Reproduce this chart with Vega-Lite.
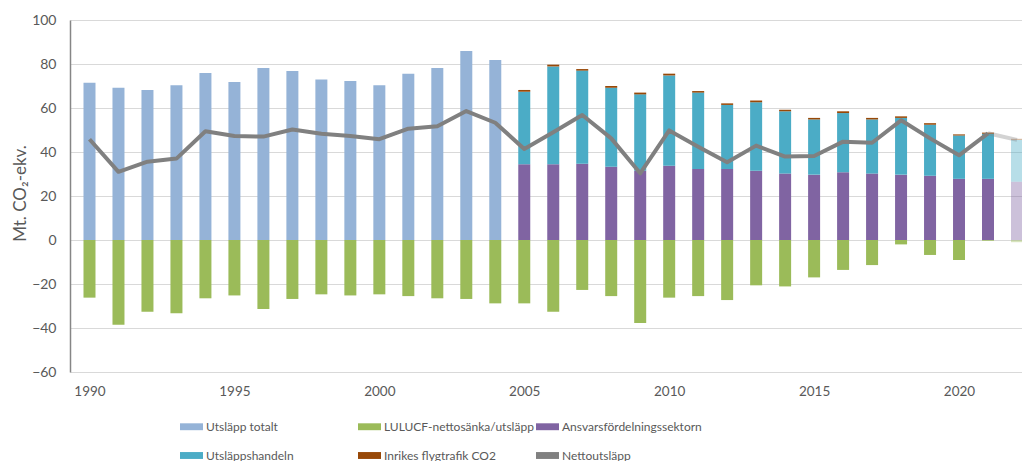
{
  "$schema": "https://vega.github.io/schema/vega-lite/v6.json",
  "width": 952,
  "height": 352,
  "autosize": {"type": "none"},
  "padding": {"left": 70, "top": 20, "right": 0, "bottom": 89},
  "background": "white",
  "config": {
    "view": {"stroke": null},
    "font": "Lato",
    "axis": {"labelFont": "Lato", "labelColor": "#595959", "titleFont": "Lato", "titleColor": "#595959", "titleFontWeight": "normal"},
    "legend": {"labelFont": "Lato", "labelColor": "#595959"}
  },
  "datasets": {
    "bars": [
      {"year": 1990, "series": "Utsläpp totalt", "value": 71.5},
      {"year": 1991, "series": "Utsläpp totalt", "value": 69.2},
      {"year": 1992, "series": "Utsläpp totalt", "value": 68.2},
      {"year": 1993, "series": "Utsläpp totalt", "value": 70.3},
      {"year": 1994, "series": "Utsläpp totalt", "value": 75.9},
      {"year": 1995, "series": "Utsläpp totalt", "value": 71.8},
      {"year": 1996, "series": "Utsläpp totalt", "value": 78.2},
      {"year": 1997, "series": "Utsläpp totalt", "value": 76.8},
      {"year": 1998, "series": "Utsläpp totalt", "value": 73.0},
      {"year": 1999, "series": "Utsläpp totalt", "value": 72.3},
      {"year": 2000, "series": "Utsläpp totalt", "value": 70.3},
      {"year": 2001, "series": "Utsläpp totalt", "value": 75.6},
      {"year": 2002, "series": "Utsläpp totalt", "value": 78.2},
      {"year": 2003, "series": "Utsläpp totalt", "value": 85.9},
      {"year": 2004, "series": "Utsläpp totalt", "value": 81.8},
      {"year": 1990, "series": "LULUCF-nettosänka/utsläpp", "value": -26.2},
      {"year": 1991, "series": "LULUCF-nettosänka/utsläpp", "value": -38.5},
      {"year": 1992, "series": "LULUCF-nettosänka/utsläpp", "value": -32.6},
      {"year": 1993, "series": "LULUCF-nettosänka/utsläpp", "value": -33.3},
      {"year": 1994, "series": "LULUCF-nettosänka/utsläpp", "value": -26.5},
      {"year": 1995, "series": "LULUCF-nettosänka/utsläpp", "value": -25.2},
      {"year": 1996, "series": "LULUCF-nettosänka/utsläpp", "value": -31.4},
      {"year": 1997, "series": "LULUCF-nettosänka/utsläpp", "value": -26.8},
      {"year": 1998, "series": "LULUCF-nettosänka/utsläpp", "value": -24.7},
      {"year": 1999, "series": "LULUCF-nettosänka/utsläpp", "value": -25.2},
      {"year": 2000, "series": "LULUCF-nettosänka/utsläpp", "value": -24.7},
      {"year": 2001, "series": "LULUCF-nettosänka/utsläpp", "value": -25.5},
      {"year": 2002, "series": "LULUCF-nettosänka/utsläpp", "value": -26.5},
      {"year": 2003, "series": "LULUCF-nettosänka/utsläpp", "value": -26.8},
      {"year": 2004, "series": "LULUCF-nettosänka/utsläpp", "value": -28.8},
      {"year": 2005, "series": "LULUCF-nettosänka/utsläpp", "value": -28.8},
      {"year": 2006, "series": "LULUCF-nettosänka/utsläpp", "value": -32.6},
      {"year": 2007, "series": "LULUCF-nettosänka/utsläpp", "value": -22.7},
      {"year": 2008, "series": "LULUCF-nettosänka/utsläpp", "value": -25.5},
      {"year": 2009, "series": "LULUCF-nettosänka/utsläpp", "value": -37.7},
      {"year": 2010, "series": "LULUCF-nettosänka/utsläpp", "value": -26.2},
      {"year": 2011, "series": "LULUCF-nettosänka/utsläpp", "value": -25.5},
      {"year": 2012, "series": "LULUCF-nettosänka/utsläpp", "value": -27.3},
      {"year": 2013, "series": "LULUCF-nettosänka/utsläpp", "value": -20.6},
      {"year": 2014, "series": "LULUCF-nettosänka/utsläpp", "value": -21.1},
      {"year": 2015, "series": "LULUCF-nettosänka/utsläpp", "value": -17.0},
      {"year": 2016, "series": "LULUCF-nettosänka/utsläpp", "value": -13.6},
      {"year": 2017, "series": "LULUCF-nettosänka/utsläpp", "value": -11.4},
      {"year": 2018, "series": "LULUCF-nettosänka/utsläpp", "value": -2.0},
      {"year": 2019, "series": "LULUCF-nettosänka/utsläpp", "value": -6.8},
      {"year": 2020, "series": "LULUCF-nettosänka/utsläpp", "value": -9.1},
      {"year": 2021, "series": "LULUCF-nettosänka/utsläpp", "value": -0.3},
      {"year": 2022, "series": "LULUCF-nettosänka/utsläpp", "value": -1.0},
      {"year": 2005, "series": "Ansvarsfördelningssektorn", "value": 34.4},
      {"year": 2006, "series": "Ansvarsfördelningssektorn", "value": 34.4},
      {"year": 2007, "series": "Ansvarsfördelningssektorn", "value": 34.7},
      {"year": 2008, "series": "Ansvarsfördelningssektorn", "value": 33.3},
      {"year": 2009, "series": "Ansvarsfördelningssektorn", "value": 31.5},
      {"year": 2010, "series": "Ansvarsfördelningssektorn", "value": 33.8},
      {"year": 2011, "series": "Ansvarsfördelningssektorn", "value": 32.3},
      {"year": 2012, "series": "Ansvarsfördelningssektorn", "value": 32.3},
      {"year": 2013, "series": "Ansvarsfördelningssektorn", "value": 31.5},
      {"year": 2014, "series": "Ansvarsfördelningssektorn", "value": 30.2},
      {"year": 2015, "series": "Ansvarsfördelningssektorn", "value": 29.7},
      {"year": 2016, "series": "Ansvarsfördelningssektorn", "value": 30.8},
      {"year": 2017, "series": "Ansvarsfördelningssektorn", "value": 30.2},
      {"year": 2018, "series": "Ansvarsfördelningssektorn", "value": 29.7},
      {"year": 2019, "series": "Ansvarsfördelningssektorn", "value": 29.2},
      {"year": 2020, "series": "Ansvarsfördelningssektorn", "value": 27.8},
      {"year": 2021, "series": "Ansvarsfördelningssektorn", "value": 27.8},
      {"year": 2022, "series": "Ansvarsfördelningssektorn", "value": 26.5},
      {"year": 2005, "series": "Utsläppshandeln", "value": 33.0},
      {"year": 2006, "series": "Utsläppshandeln", "value": 44.5},
      {"year": 2007, "series": "Utsläppshandeln", "value": 42.3},
      {"year": 2008, "series": "Utsläppshandeln", "value": 35.9},
      {"year": 2009, "series": "Utsläppshandeln", "value": 34.7},
      {"year": 2010, "series": "Utsläppshandeln", "value": 41.0},
      {"year": 2011, "series": "Utsläppshandeln", "value": 34.7},
      {"year": 2012, "series": "Utsläppshandeln", "value": 29.1},
      {"year": 2013, "series": "Utsläppshandeln", "value": 31.1},
      {"year": 2014, "series": "Utsläppshandeln", "value": 28.3},
      {"year": 2015, "series": "Utsläppshandeln", "value": 25.1},
      {"year": 2016, "series": "Utsläppshandeln", "value": 26.9},
      {"year": 2017, "series": "Utsläppshandeln", "value": 24.6},
      {"year": 2018, "series": "Utsläppshandeln", "value": 25.8},
      {"year": 2019, "series": "Utsläppshandeln", "value": 23.2},
      {"year": 2020, "series": "Utsläppshandeln", "value": 19.7},
      {"year": 2021, "series": "Utsläppshandeln", "value": 20.5},
      {"year": 2022, "series": "Utsläppshandeln", "value": 19.0},
      {"year": 2005, "series": "Inrikes flygtrafik CO2", "value": 0.8},
      {"year": 2006, "series": "Inrikes flygtrafik CO2", "value": 0.8},
      {"year": 2007, "series": "Inrikes flygtrafik CO2", "value": 0.7},
      {"year": 2008, "series": "Inrikes flygtrafik CO2", "value": 0.8},
      {"year": 2009, "series": "Inrikes flygtrafik CO2", "value": 0.8},
      {"year": 2010, "series": "Inrikes flygtrafik CO2", "value": 0.8},
      {"year": 2011, "series": "Inrikes flygtrafik CO2", "value": 0.7},
      {"year": 2012, "series": "Inrikes flygtrafik CO2", "value": 0.7},
      {"year": 2013, "series": "Inrikes flygtrafik CO2", "value": 0.8},
      {"year": 2014, "series": "Inrikes flygtrafik CO2", "value": 0.7},
      {"year": 2015, "series": "Inrikes flygtrafik CO2", "value": 0.7},
      {"year": 2016, "series": "Inrikes flygtrafik CO2", "value": 0.8},
      {"year": 2017, "series": "Inrikes flygtrafik CO2", "value": 0.7},
      {"year": 2018, "series": "Inrikes flygtrafik CO2", "value": 0.7},
      {"year": 2019, "series": "Inrikes flygtrafik CO2", "value": 0.7},
      {"year": 2020, "series": "Inrikes flygtrafik CO2", "value": 0.5},
      {"year": 2021, "series": "Inrikes flygtrafik CO2", "value": 0.5},
      {"year": 2022, "series": "Inrikes flygtrafik CO2", "value": 0.5}
    ],
    "net": [
      {"year": 1990, "value": 45.8},
      {"year": 1991, "value": 31.0},
      {"year": 1992, "value": 35.6},
      {"year": 1993, "value": 37.0},
      {"year": 1994, "value": 49.4},
      {"year": 1995, "value": 47.3},
      {"year": 1996, "value": 47.0},
      {"year": 1997, "value": 50.2},
      {"year": 1998, "value": 48.3},
      {"year": 1999, "value": 47.3},
      {"year": 2000, "value": 45.8},
      {"year": 2001, "value": 50.6},
      {"year": 2002, "value": 51.7},
      {"year": 2003, "value": 58.6},
      {"year": 2004, "value": 53.3},
      {"year": 2005, "value": 41.4},
      {"year": 2006, "value": 49.0},
      {"year": 2007, "value": 56.8},
      {"year": 2008, "value": 46.2},
      {"year": 2009, "value": 30.3},
      {"year": 2010, "value": 49.8},
      {"year": 2011, "value": 42.4},
      {"year": 2012, "value": 35.3},
      {"year": 2013, "value": 42.9},
      {"year": 2014, "value": 37.9},
      {"year": 2015, "value": 38.2},
      {"year": 2016, "value": 44.7},
      {"year": 2017, "value": 44.2},
      {"year": 2018, "value": 54.4},
      {"year": 2019, "value": 46.2},
      {"year": 2020, "value": 38.5},
      {"year": 2021, "value": 48.5},
      {"year": 2022, "value": 45.5}
    ]
  },
  "encoding": {
    "x": {
      "field": "year", "type": "quantitative",
      "scale": {"domain": [1989.5, 2022], "nice": false, "zero": false},
      "axis": {"title": null, "values": [1990, 1995, 2000, 2005, 2010, 2015, 2020], "format": "d", "ticks": false, "domain": false, "grid": false, "labelFontSize": 13.5, "labelPadding": 12, "labelFlush": false}
    }
  },
  "layer": [
    {
      "data": {"name": "bars"},
      "transform": [
        {"calculate": "indexof(['Ansvarsfördelningssektorn', 'Utsläppshandeln', 'Inrikes flygtrafik CO2'], datum.series)", "as": "stackorder"}
      ],
      "mark": {"type": "bar", "orient": "vertical", "size": 12, "clip": true},
      "encoding": {
        "y": {
          "field": "value", "type": "quantitative", "stack": "zero",
          "scale": {"domain": [-60, 100], "nice": false},
          "axis": {
            "title": "Mt. CO₂-ekv.", "values": [-60, -40, -20, 0, 20, 40, 60, 80, 100],
            "ticks": false, "domain": true, "domainColor": "#868686", "domainWidth": 1.5,
            "grid": true, "gridColor": "#D9D9D9", "gridWidth": 1.2,
            "labelFontSize": 14, "labelPadding": 14,
            "titleFontSize": 17, "titleX": -50, "titleY": 173, "titleAngle": -90, "titleAlign": "center", "titleBaseline": "middle"
          }
        },
        "order": {"field": "stackorder", "type": "quantitative", "sort": "ascending"},
        "color": {
          "field": "series", "type": "nominal",
          "scale": {
            "domain": ["Utsläpp totalt", "LULUCF-nettosänka/utsläpp", "Ansvarsfördelningssektorn", "Utsläppshandeln", "Inrikes flygtrafik CO2", "Nettoutsläpp"],
            "range": ["#95B3D7", "#9BBB59", "#8064A2", "#4BACC6", "#984807", "#808080"]
          },
          "legend": {
            "title": null, "orient": "none", "legendX": 110, "legendY": 395, "columns": 3, "direction": "horizontal",
            "gridAlign": "all", "columnPadding": 2, "rowPadding": 11,
            "symbolType": "M-1,-0.3H1V0.3H-1Z", "symbolSize": 529, "symbolStrokeWidth": 0,
            "labelFontSize": 12, "labelOffset": 3, "labelLimit": 300,
            "encode": {
              "symbols": {
                "update": {
                  "shape": {"signal": "datum.value === 'Nettoutsläpp' ? 'M-1,-0.16H1V0.16H-1Z' : 'M-1,-0.3H1V0.3H-1Z'"},
                  "fill": {"scale": "color", "field": "value"},
                  "strokeWidth": {"value": 0},
                  "opacity": {"value": 1}
                }
              }
            }
          }
        },
        "opacity": {"condition": {"test": "datum.year === 2022", "value": 0.4}, "value": 1}
      }
    },
    {
      "mark": {"type": "rule", "color": "#868686", "strokeWidth": 2},
      "encoding": {"y": {"datum": 0}}
    },
    {
      "data": {"name": "net"},
      "transform": [{"filter": "datum.year <= 2021"}],
      "mark": {"type": "line", "strokeWidth": 4, "strokeJoin": "round", "strokeCap": "butt", "clip": true},
      "encoding": {
        "y": {"field": "value", "type": "quantitative"},
        "color": {"datum": "Nettoutsläpp"}
      }
    },
    {
      "data": {"name": "net"},
      "transform": [{"filter": "datum.year >= 2021"}],
      "mark": {"type": "line", "strokeWidth": 4, "strokeJoin": "round", "opacity": 0.35, "clip": true},
      "encoding": {
        "y": {"field": "value", "type": "quantitative"},
        "color": {"datum": "Nettoutsläpp"}
      }
    }
  ]
}
